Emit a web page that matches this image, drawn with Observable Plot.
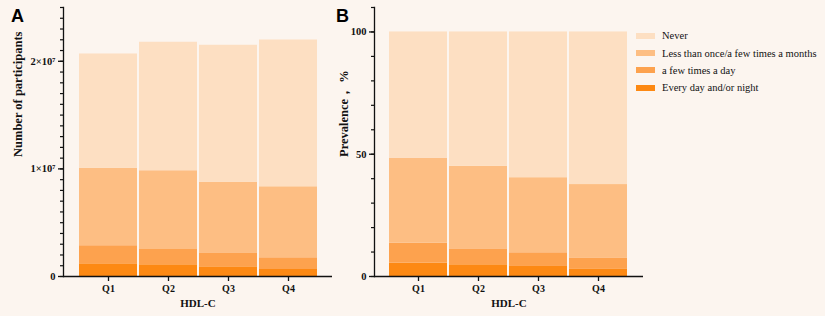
<!DOCTYPE html>
<html>
<head>
<meta charset="utf-8">
<script src="https://cdn.jsdelivr.net/npm/d3@7"></script>
<script src="https://cdn.jsdelivr.net/npm/@observablehq/plot@0.6"></script>
<style>
  html, body { margin: 0; padding: 0; background: #fcf5ef; }
  #wrap { position: relative; width: 825px; height: 316px; background: #fcf5ef; overflow: hidden; }
  #wrap svg { position: absolute; top: 0; background: transparent; }
  .panel { position: absolute; font-family: "Liberation Sans", Arial, sans-serif; font-weight: bold; font-size: 18px; line-height: 18px; color: #000; }
  #legend { position: absolute; left: 636px; top: 27px; width: 189px; font-family: "Liberation Serif", "Times New Roman", serif; font-size: 10.5px; color: #111; white-space: nowrap; }
  #legend .row { display: flex; align-items: center; height: 17.4px; }
  #legend .sw { width: 19px; height: 6px; margin-right: 7px; flex: none; }
</style>
</head>
<body>
<div id="wrap">
  <div class="panel" style="left:11px; top:7px;">A</div>
  <div class="panel" style="left:336px; top:7px;">B</div>
  <div id="legend"></div>
</div>
<script>
// Categories and series
const quartiles = ["Q1", "Q2", "Q3", "Q4"];
const seriesNames = ["Every day and/or night", "a few times a day", "Less than once/a few times a months", "Never"];
const legendOrder = ["Never", "Less than once/a few times a months", "a few times a day", "Every day and/or night"];
const colors = ["#fd8913", "#fda24e", "#fdbe83", "#fddfc2"];

// Panel A: number of participants (segment values)
const countEvery = [1.18e6, 1.09e6, 0.90e6, 0.65e6];
const countFew   = [1.68e6, 1.42e6, 1.24e6, 1.09e6];
const countLess  = [7.21e6, 7.32e6, 6.60e6, 6.60e6];
const countNever = [10.61e6, 11.94e6, 12.75e6, 13.64e6];

// Panel B: prevalence, % (segment values)
const pctEvery = [5.5, 4.8, 4.1, 2.9];
const pctFew   = [8.1, 6.5, 5.6, 4.7];
const pctLess  = [34.8, 33.8, 30.7, 30.0];
const pctNever = [51.6, 54.9, 59.6, 62.4];

// Tick labels
const ticksA = [0, 1e7, 2e7];
const tickLabelsA = ["0", "1×10⁷", "2×10⁷"];
const ticksB = [0, 50, 100];
const tickLabelsB = ["0", "50", "100"];

function tidy(arrays) {
  const out = [];
  arrays.forEach((arr, s) => arr.forEach((v, i) => out.push({q: quartiles[i], series: seriesNames[s], value: v})));
  return out;
}
const dataA = tidy([countEvery, countFew, countLess, countNever]);
const dataB = tidy([pctEvery, pctFew, pctLess, pctNever]);

const serif = "Liberation Serif, Times New Roman, serif";

function panel({data, left, width, marginLeft, marginRight, yDomain, minorStep, ticks, tickLabels, yLabel, yLabelDx, insetLeft, insetRight}) {
  const minor = d3.range(0, yDomain[1] + minorStep / 2, minorStep);
  const svg = Plot.plot({
    width, height: 316,
    marginLeft, marginRight, marginTop: 7, marginBottom: 40,
    style: {background: "transparent", fontFamily: serif, color: "#111"},
    x: {domain: quartiles, paddingInner: 0.04, paddingOuter: 0, insetLeft, insetRight, label: null},
    y: {domain: yDomain, label: null},
    color: {domain: seriesNames, range: colors},
    marks: [
      Plot.barY(data, {x: "q", y: "value", fill: "series", order: seriesNames}),
      Plot.frame({anchor: "left", stroke: "#111", strokeWidth: 1.3}),
      Plot.ruleY([0], {stroke: "#111", strokeWidth: 1.3}),
      Plot.axisY(minor, {tickSize: 3, tickFormat: () => "", stroke: "#111", strokeWidth: 1.2, label: null}),
      Plot.axisY(ticks, {tickSize: 5, tickPadding: 3, tickFormat: (d, i) => tickLabels[i], fontSize: 10.5, fontWeight: "bold", stroke: "#111", strokeWidth: 1.3, label: null}),
      Plot.axisX({tickSize: 5, tickPadding: 3, fontSize: 10, fontWeight: "bold", stroke: "#111", strokeWidth: 1.3, label: null}),
      Plot.text([yLabel], {frameAnchor: "left", dx: yLabelDx, dy: 15, rotate: -90, fontSize: 12.5, fontWeight: "bold", fill: "#111"}),
      Plot.text(["HDL-C"], {frameAnchor: "bottom", dy: 30, fontSize: 11, fontWeight: "bold", fill: "#111"})
    ]
  });
  svg.style.left = left + "px";
  return svg;
}

const wrap = document.getElementById("wrap");
wrap.appendChild(panel({data: dataA, left: 0, width: 340, marginLeft: 63, marginRight: 8,
  yDomain: [0, 2.5e7], minorStep: 1e6, ticks: ticksA, tickLabels: tickLabelsA,
  yLabel: "Number of participants", yLabelDx: -46, insetLeft: 15, insetRight: 14}));
wrap.appendChild(panel({data: dataB, left: 330, width: 325, marginLeft: 44, marginRight: 12,
  yDomain: [0, 110], minorStep: 10, ticks: ticksB, tickLabels: tickLabelsB,
  yLabel: "Prevalence， %", yLabelDx: -31, insetLeft: 14, insetRight: 15}));

const legend = document.getElementById("legend");
legendOrder.forEach(name => {
  const row = document.createElement("div");
  row.className = "row";
  const sw = document.createElement("div");
  sw.className = "sw";
  sw.style.background = colors[seriesNames.indexOf(name)];
  const tx = document.createElement("span");
  tx.textContent = name;
  row.appendChild(sw);
  row.appendChild(tx);
  legend.appendChild(row);
});
</script>
</body>
</html>
